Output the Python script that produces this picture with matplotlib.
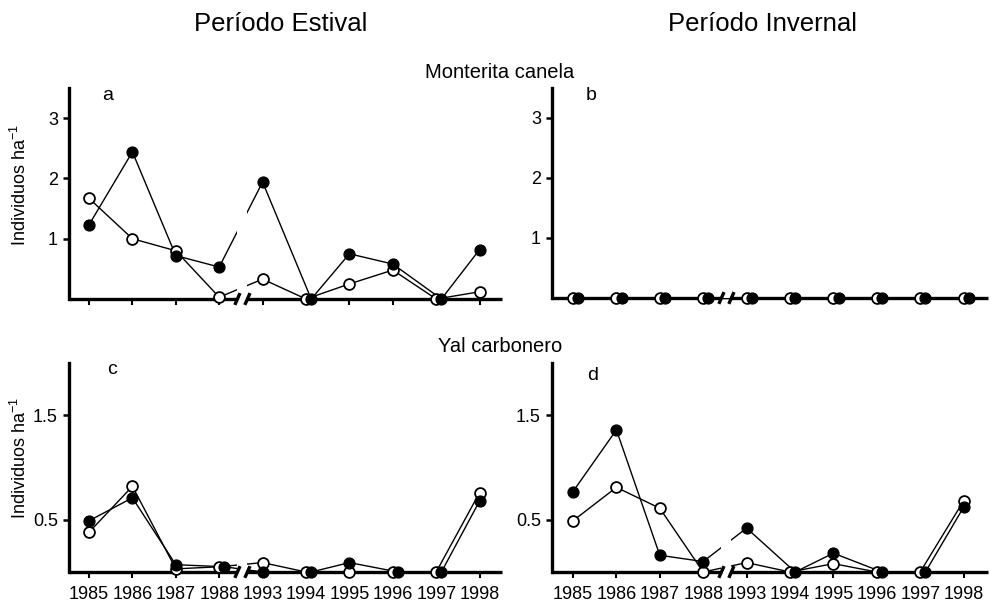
import matplotlib
matplotlib.use('Agg')
import matplotlib.pyplot as plt
from matplotlib.transforms import blended_transform_factory

plt.rcParams['font.family'] = ['Liberation Sans', 'DejaVu Sans']
plt.rcParams['mathtext.fontset'] = 'custom'
plt.rcParams['mathtext.rm'] = 'Liberation Sans'
plt.rcParams['mathtext.it'] = 'Liberation Sans:italic'
plt.rcParams['mathtext.default'] = 'regular'

# Data (individuos por ha)
years = ['1985', '1986', '1987', '1988', '1993', '1994', '1995', '1996', '1997', '1998']

# Monterita canela
mc_estival_filled = [1.23, 2.44, 0.72, 0.53, 1.94, 0.0, 0.75, 0.58, 0.0, 0.82]
mc_estival_open = [1.67, 1.00, 0.80, 0.03, 0.33, 0.0, 0.25, 0.48, 0.0, 0.12]
mc_invernal_filled = [0.0, 0.0, 0.0, 0.0, 0.0, 0.0, 0.0, 0.0, 0.0, 0.0]
mc_invernal_open = [0.0, 0.0, 0.0, 0.0, 0.0, 0.0, 0.0, 0.0, 0.0, 0.0]

# Yal carbonero
yc_estival_filled = [0.49, 0.71, 0.07, 0.05, 0.0, 0.0, 0.09, 0.0, 0.0, 0.68]
yc_estival_open = [0.38, 0.82, 0.03, 0.05, 0.09, 0.0, 0.0, 0.0, 0.0, 0.76]
yc_invernal_filled = [0.77, 1.36, 0.16, 0.10, 0.42, 0.0, 0.18, 0.0, 0.0, 0.62]
yc_invernal_open = [0.49, 0.81, 0.61, 0.0, 0.09, 0.0, 0.08, 0.0, 0.0, 0.68]

W, H = 991, 608
fig = plt.figure(figsize=(W / 100, H / 100), dpi=100)


def px_axes(left, right, top, bottom):
    return fig.add_axes([left / W, 1 - bottom / H, (right - left) / W, (bottom - top) / H])


def draw_panel(ax, filled, opn, ylim, yticks, yticklabels, xlim, letter, letter_pos, show_xlabels):
    idx = list(range(len(years)))
    # filled marker pushed a bit right where both series overlap
    xf = [i + 0.12 if abs(f - o) < 0.03 else i for i, f, o in zip(idx, filled, opn)]

    ax.plot(idx, opn, color='black', lw=1.0, zorder=2, clip_on=False)
    ax.plot(xf, filled, color='black', lw=1.0, zorder=2, clip_on=False)
    ax.plot(idx, opn, 'o', ms=7.8, mfc='white', mec='black', mew=1.3, zorder=4, clip_on=False)
    ax.plot(xf, filled, 'o', ms=7.8, mfc='black', mec='black', zorder=5, clip_on=False)

    # axis break between 1988 and 1993
    b0, b1 = 3.42, 3.65
    ax.axvspan(b0, b1, color='white', zorder=3, lw=0)
    ax.plot([xlim[0], b0], [0, 0], color='black', lw=2.4, zorder=1.5, clip_on=False,
            solid_capstyle='butt')
    ax.plot([b1, xlim[1]], [0, 0], color='black', lw=2.4, zorder=1.5, clip_on=False,
            solid_capstyle='butt')
    trans = blended_transform_factory(ax.transData, ax.transAxes)
    for c in (b0, b1):
        ax.plot([c - 0.06, c + 0.06], [-0.028, 0.028], color='black', lw=2.4,
                transform=trans, clip_on=False, zorder=6, solid_capstyle='butt')

    ax.set_xlim(xlim)
    ax.set_ylim(ylim)
    ax.set_xticks(idx)
    if show_xlabels:
        ax.set_xticklabels(years, fontsize=13)
    else:
        ax.set_xticklabels([])
    ax.set_yticks(yticks)
    ax.set_yticklabels(yticklabels, fontsize=13)
    ax.tick_params(axis='x', direction='out', length=4, width=1.5, pad=6)
    ax.tick_params(axis='y', direction='out', length=4, width=1.8, pad=4)

    for s in ('top', 'right', 'bottom'):
        ax.spines[s].set_visible(False)
    ax.spines['left'].set_linewidth(2.4)
    ax.patch.set_alpha(0)

    fig.text(letter_pos[0] / W, 1 - letter_pos[1] / H, letter, fontsize=14,
             ha='center', va='center')


xl_left = (-20 / 43.4, (502 - 89) / 43.4)
xl_right = (-21 / 43.4, (988 - 573) / 43.4)

ax_a = px_axes(69, 502, 88, 299)
draw_panel(ax_a, mc_estival_filled, mc_estival_open, (0, 3.5), [1, 2, 3], ['1', '2', '3'],
           xl_left, 'a', (108, 96), False)
ax_b = px_axes(552, 988, 88, 298)
draw_panel(ax_b, mc_invernal_filled, mc_invernal_open, (0, 3.5), [1, 2, 3], ['1', '2', '3'],
           xl_right, 'b', (591, 96), False)
ax_c = px_axes(69, 502, 363, 572)
draw_panel(ax_c, yc_estival_filled, yc_estival_open, (0, 2.0), [0.5, 1.5], ['0.5', '1.5'],
           xl_left, 'c', (112, 370), True)
ax_d = px_axes(552, 988, 363, 572)
draw_panel(ax_d, yc_invernal_filled, yc_invernal_open, (0, 2.0), [0.5, 1.5], ['0.5', '1.5'],
           xl_right, 'd', (593, 376), True)

# y labels
for yc in (185, 458):
    fig.text(20 / W, 1 - yc / H, 'Individuos ha$^{-1}$', rotation=90, fontsize=13,
             ha='center', va='center')

# column and row titles
fig.text(281 / W, 1 - 24 / H, 'Período Estival', fontsize=18.5, ha='center', va='center')
fig.text(763 / W, 1 - 24 / H, 'Período Invernal', fontsize=18.5, ha='center', va='center')
fig.text(500 / W, 1 - 72 / H, 'Monterita canela', fontsize=14.5, ha='center', va='center')
fig.text(500 / W, 1 - 347 / H, 'Yal carbonero', fontsize=14.5, ha='center', va='center')

fig.savefig('out.png', dpi=100)
